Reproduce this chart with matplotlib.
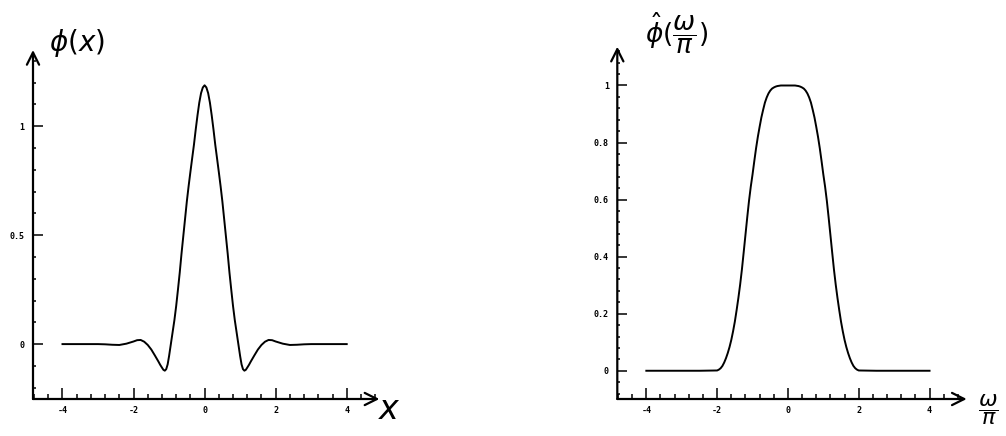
import numpy as np
import matplotlib
matplotlib.use("Agg")
import matplotlib.pyplot as plt
from matplotlib.ticker import MultipleLocator, FixedLocator

plt.rcParams['axes.unicode_minus'] = False
plt.rcParams['mathtext.fontset'] = 'dejavusans'

# phi(x) for x >= 0 (curve is symmetric)
phi_x = [0.0, 0.05, 0.1, 0.15, 0.2, 0.25, 0.3, 0.35, 0.4, 0.45, 0.5, 0.55,
         0.6, 0.65, 0.7, 0.75, 0.8, 0.85, 0.9, 0.95, 1.0, 1.04, 1.08, 1.12,
         1.16, 1.2, 1.25, 1.3, 1.4, 1.5, 1.6, 1.7, 1.8, 1.9, 2.0, 2.2, 2.4,
         2.6, 2.8, 3.0, 3.5, 4.0]
phi_y = [1.188, 1.178, 1.152, 1.108, 1.05, 0.985, 0.915, 0.853, 0.79,
         0.725, 0.655, 0.575, 0.495, 0.415, 0.328, 0.25, 0.175, 0.11, 0.055,
         0.0, -0.055, -0.093, -0.115, -0.122, -0.118, -0.108, -0.095, -0.08,
         -0.052, -0.025, -0.004, 0.011, 0.019, 0.018, 0.012, 0.002, -0.004,
         -0.003, -0.001, 0.0, 0.0, 0.0]

# phi_hat(w/pi) for w/pi >= 0
hat_x = [0.0, 0.2, 0.25, 0.3, 0.35, 0.4, 0.45, 0.5, 0.55, 0.6, 0.65, 0.7,
         0.75, 0.8, 0.85, 0.9, 0.95, 1.0, 1.05, 1.1, 1.15, 1.2, 1.25, 1.3,
         1.35, 1.4, 1.45, 1.5, 1.55, 1.6, 1.65, 1.7, 1.75, 1.8, 1.85, 1.9,
         1.95, 2.0, 2.5, 3.0, 4.0]
hat_y = [1.0, 1.0, 0.999, 0.998, 0.996, 0.993, 0.989, 0.982, 0.972, 0.958,
         0.94, 0.915, 0.888, 0.855, 0.82, 0.78, 0.735, 0.688, 0.645, 0.595,
         0.537, 0.476, 0.415, 0.355, 0.302, 0.255, 0.212, 0.172, 0.138,
         0.108, 0.083, 0.062, 0.044, 0.029, 0.017, 0.009, 0.004, 0.001,
         0.0, 0.0, 0.0]


def mirror(xs, ys):
    xs = np.asarray(xs)
    ys = np.asarray(ys)
    return np.concatenate([-xs[:0:-1], xs]), np.concatenate([ys[:0:-1], ys])


fig = plt.figure(figsize=(10.06, 4.36), dpi=100)

ax1 = fig.add_axes([33 / 1006, 37 / 436, 346.4 / 1006, 349 / 436])
ax2 = fig.add_axes([617.3 / 1006, 37 / 436, 349.4 / 1006, 352.3 / 436])

tick_font = dict(family='DejaVu Sans Mono', weight='bold', size=6)


def style_axes(ax, ymajor, yminor, yfmt):
    for s in ax.spines.values():
        s.set_visible(False)
    ax.xaxis.set_major_locator(FixedLocator([-4, -2, 0, 2, 4]))
    ax.xaxis.set_minor_locator(MultipleLocator(0.4))
    ax.yaxis.set_major_locator(FixedLocator(ymajor))
    ax.yaxis.set_minor_locator(MultipleLocator(yminor))
    ax.set_xticklabels(['-4', '-2', '0', '2', '4'], fontdict=tick_font)
    ax.set_yticklabels(yfmt, fontdict=tick_font)
    ax.tick_params(axis='x', which='major', direction='in', length=8,
                   width=1.1, pad=5)
    ax.tick_params(axis='x', which='minor', direction='in', length=3.6,
                   width=1.1)
    ax.tick_params(axis='y', which='major', direction='in', length=7.2,
                   width=1.1, pad=6)
    ax.tick_params(axis='y', which='minor', direction='in', length=2.5,
                   width=1.1)
    # hand-drawn looking axis arrows
    ax.annotate('', xy=(1, 0), xytext=(0, 0), xycoords='axes fraction',
                arrowprops=dict(arrowstyle='->', lw=1.6, color='black',
                                mutation_scale=22, shrinkA=0, shrinkB=0))
    ax.annotate('', xy=(0, 1), xytext=(0, 0), xycoords='axes fraction',
                arrowprops=dict(arrowstyle='->', lw=1.6, color='black',
                                mutation_scale=22, shrinkA=0, shrinkB=0))


# left: phi(x)
px, py = mirror(phi_x, phi_y)
ax1.plot(px, py, color='black', lw=1.4)
ax1.set_xlim(-4.83, 4.92)
ax1.set_ylim(-0.252, 1.35)
style_axes(ax1, [0, 0.5, 1], 0.1, ['0', '0.5', '1'])

# right: phi_hat(w/pi)
hx, hy = mirror(hat_x, hat_y)
ax2.plot(hx, hy, color='black', lw=1.4)
ax2.set_xlim(-4.82, 5.05)
ax2.set_ylim(-0.099, 1.136)
style_axes(ax2, [0, 0.2, 0.4, 0.6, 0.8, 1], 0.04,
           ['0', '0.2', '0.4', '0.6', '0.8', '1'])

# axis names
fig.text(49 / 1006, 1 - 43 / 436, r'$\phi(x)$', fontsize=20,
         ha='left', va='center')
fig.text(389 / 1006, 1 - 409 / 436, r'$x$', fontsize=24,
         ha='center', va='center', weight='bold')
fig.text(645 / 1006, 1 - 33 / 436, r'$\hat{\phi}(\dfrac{\omega}{\pi})$',
         fontsize=19, ha='left', va='center')
fig.text(978 / 1006, 1 - 410 / 436, r'$\dfrac{\omega}{\pi}$', fontsize=16,
         ha='left', va='center')

fig.savefig('out.png', dpi=100)
